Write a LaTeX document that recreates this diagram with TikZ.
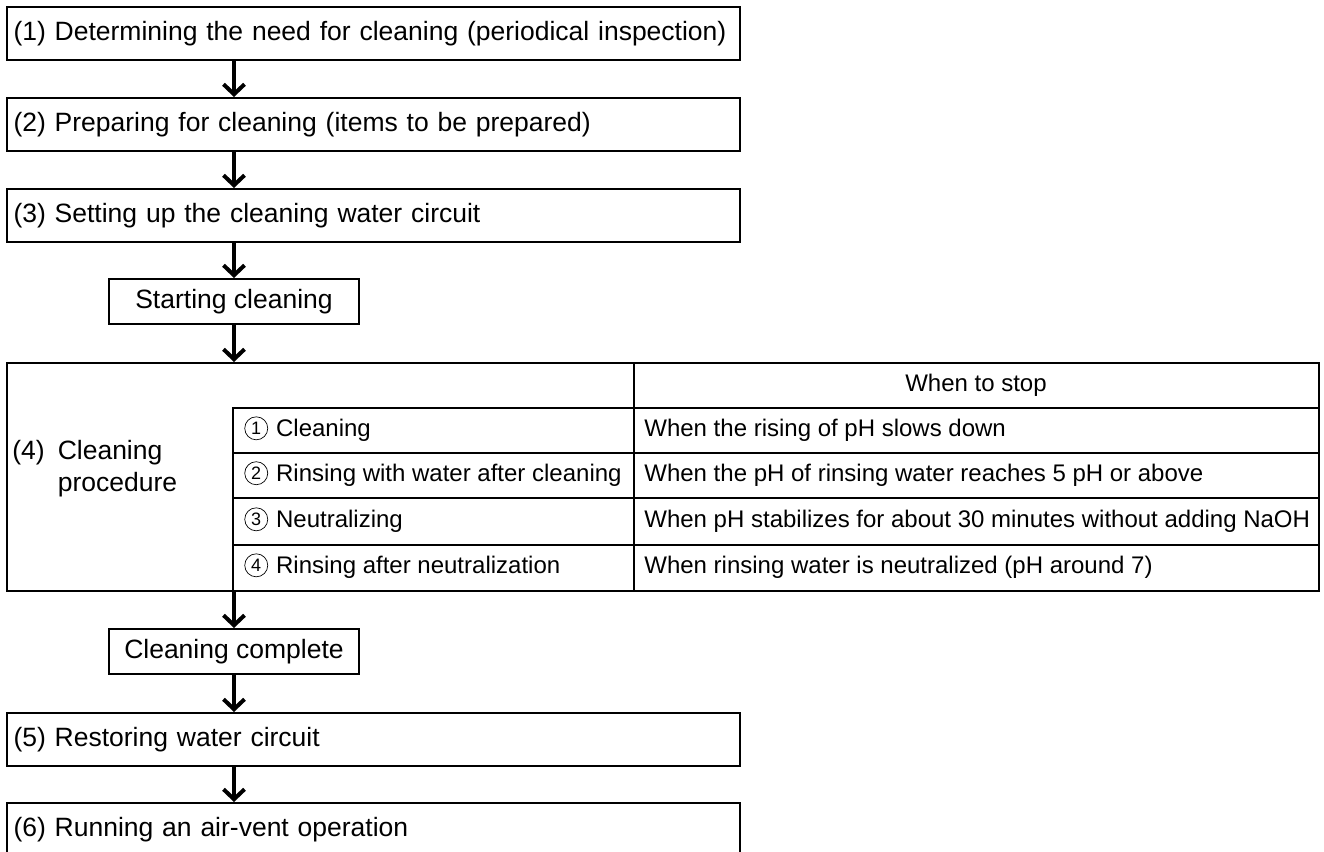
\documentclass[tikz,border=0pt]{standalone}
\usepackage{fontspec}
\setmainfont{Liberation Sans}
\usetikzlibrary{arrows.meta,positioning,calc}

% thin circled step number
\newcommand{\circnum}[1]{\tikz[baseline={([yshift=-1pt]cn.base)}]\node[circle, draw,
    line width=0.35pt, minimum size=11.5pt, inner sep=0pt, font=\fontsize{9}{9}\selectfont] (cn) {#1};}

\begin{document}
\begin{tikzpicture}[
    x=0.5pt, y=-0.5pt,
    >={Straight Barb[length=5pt,width=10.5pt]},
    stepbox/.style={draw, line width=1pt, anchor=north west, text width=360pt, align=left,
                    inner xsep=3.25pt, minimum height=26.25pt, font=\fontsize{13.25}{16}\selectfont},
    markbox/.style={draw, line width=1pt, anchor=north west, minimum width=125pt,
                    minimum height=22.5pt, font=\fontsize{13.25}{16}\selectfont},
    procbox/.style={draw, line width=1pt, anchor=north west, minimum width=656pt,
                    minimum height=114pt, inner sep=0pt},
    cell/.style={anchor=west, inner sep=0pt, text height=8.6pt, text depth=2.6pt,
                 font=\fontsize{12}{14}\selectfont},
    grid/.style={line width=0.6pt},
    flow/.style={line width=2pt, ->},
]
\clip (0,0) rectangle (1324,852);

% steps before cleaning
\node[stepbox] (need) at (6,6) {(1) Determining the need for cleaning (periodical inspection)};
\node[stepbox] (prep) at (6,97) {(2) Preparing for cleaning (items to be prepared)};
\node[stepbox] (circuit) at (6,188) {(3) Setting up the cleaning water circuit};
\node[markbox] (start) at (108,278) {Starting cleaning};

% cleaning procedure table
\node[procbox] (proc) at (6,362) {};
\node[anchor=west, inner sep=0pt, font=\fontsize{13.25}{16}\selectfont] (proclabel) at (12,469)
    {\begin{tabular}{@{}l@{\hspace{6.5pt}}l@{}}(4)&Cleaning\\&procedure\end{tabular}};
\draw[grid] (634,362) -- (634,590);
\draw[grid] (233,590) -- (233,408) -- (1318,408);
\foreach \y in {453,498,545}
    \draw[grid] (233,\y) -- (1318,\y);
\node[cell, anchor=center] (stophead) at (976,385) {When to stop};
\foreach \y/\n/\what/\stop in {430.5/1/Cleaning/When the rising of pH slows down,
        475.5/2/Rinsing with water after cleaning/When the pH of rinsing water reaches 5 pH or above,
        521.5/3/Neutralizing/When pH stabilizes for about 30 minutes without adding NaOH,
        567.5/4/Rinsing after neutralization/When rinsing water is neutralized (pH around 7)} {
    \node[cell] (what\n) at (244,\y) {\circnum{\n}\hspace{4pt}\what};
    \node[cell] (stop\n) at (644,\y) {\stop};
}

% steps after cleaning
\node[markbox] (finish) at (108,628) {Cleaning complete};
\node[stepbox] (restore) at (6,712) {(5) Restoring water circuit};
\node[stepbox] (vent) at (6,802) {(6) Running an air-vent operation};

% flow arrows
\draw[flow] (need.south -| start.north) -- (prep.north -| start.north);
\draw[flow] (prep.south -| start.north) -- (circuit.north -| start.north);
\draw[flow] (circuit.south -| start.north) -- (start.north);
\draw[flow] (start.south) -- (start.south |- proc.north);
\draw[flow] (proc.south -| finish.north) -- (finish.north);
\draw[flow] (finish.south) -- (finish.south |- restore.north);
\draw[flow] (restore.south -| finish.south) -- (vent.north -| finish.south);
\end{tikzpicture}
\end{document}
